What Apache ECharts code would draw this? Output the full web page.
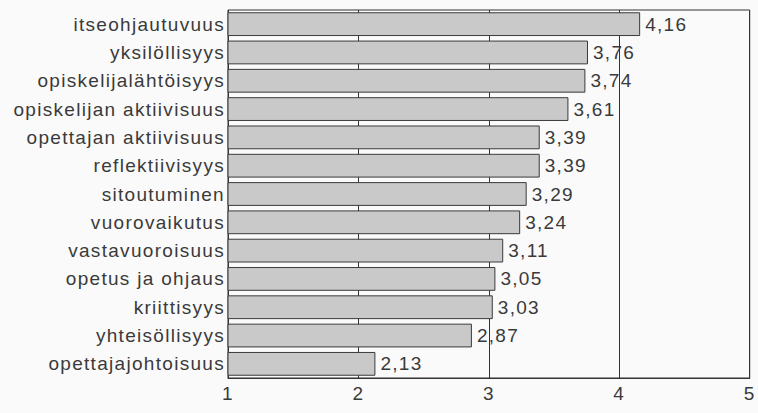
<!DOCTYPE html>
<html><head><meta charset="utf-8">
<script src="https://cdn.jsdelivr.net/npm/echarts@6/dist/echarts.min.js"></script>
<style>html,body{margin:0;padding:0;background:#fafafa}#c{width:758px;height:413px}#c svg text{letter-spacing:1.3px}</style>
</head><body><div id="c"></div>
<script>
const categories = ["itseohjautuvuus","yksilöllisyys","opiskelijalähtöisyys","opiskelijan aktiivisuus","opettajan aktiivisuus","reflektiivisyys","sitoutuminen","vuorovaikutus","vastavuoroisuus","opetus ja ohjaus","kriittisyys","yhteisöllisyys","opettajajohtoisuus"];
const values = [4.16,3.76,3.74,3.61,3.39,3.39,3.29,3.24,3.11,3.05,3.03,2.87,2.13];
const xTicks = [1,2,3,4,5];

const FONT = 'Liberation Sans, Arial';
const chart = echarts.init(document.getElementById('c'), null, {renderer:'svg'});
chart.setOption({
  backgroundColor:'#fafafa',
  animation:false,
  grid:{left:228,right:6,top:10,bottom:35,show:true,borderColor:'#333',borderWidth:1,backgroundColor:'transparent'},
  xAxis:{type:'value',min:xTicks[0],max:xTicks[xTicks.length-1],interval:1,
    axisLine:{show:true,lineStyle:{color:'#333'}},axisTick:{show:false},
    axisLabel:{color:'#3a3a3a',fontFamily:FONT,fontSize:19,margin:6},
    splitLine:{show:true,lineStyle:{color:'#333',width:1}}},
  yAxis:{type:'category',data:categories,inverse:true,
    axisLine:{show:false},axisTick:{show:false},
    axisLabel:{color:'#3a3a3a',fontFamily:FONT,fontSize:19,margin:3,interval:0}},
  series:[{type:'bar',data:values,barCategoryGap:'16%',
    itemStyle:{color:'#c9c9c9',borderColor:'#3a3a3a',borderWidth:1},
    label:{show:true,position:'right',distance:5,color:'#3a3a3a',fontFamily:FONT,fontSize:19,
      formatter:p=>p.value.toFixed(2).replace('.',',')}}]
});
</script></body></html>
